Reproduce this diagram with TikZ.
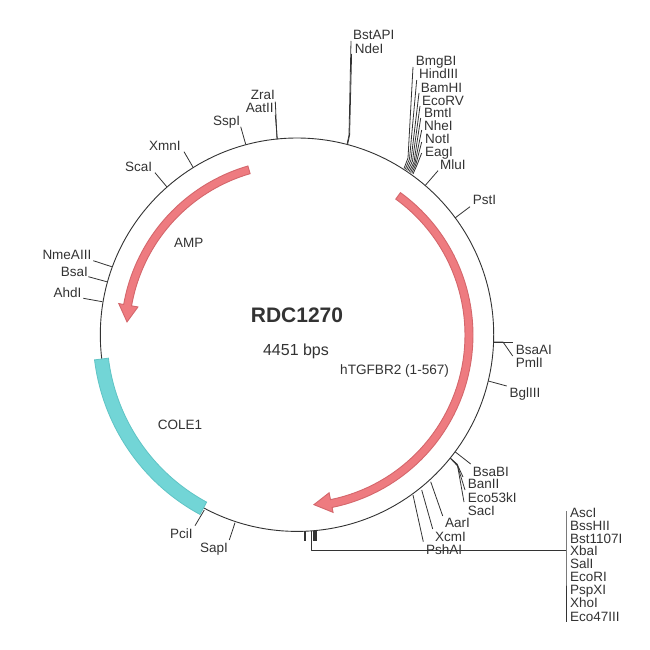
\documentclass[tikz,border=0pt]{standalone}
\usepackage{fontspec}
\setmainfont{Liberation Sans}
\usetikzlibrary{calc}
\definecolor{ink}{HTML}{333333}
\definecolor{redfill}{HTML}{EE7B80}
\definecolor{redline}{HTML}{D4666B}
\definecolor{tealfill}{HTML}{72D5D6}
\definecolor{tealline}{HTML}{5FC4C5}
\def\cx{297}
\def\cy{335}
\tikzset{
  site/.style={anchor=west,inner sep=0pt,text=ink,font=\fontsize{13.5}{14}\selectfont,text height=9.5pt,text depth=0pt},
  featurelabel/.style={site},
  conn/.style={draw=ink,line width=0.8pt,line join=round},
  plasmid/.style={draw=ink,line width=0.9pt},
  stub/.style={draw=ink,line width=1.1pt},
  redarrow/.style={fill=redfill,draw=redline,line width=0.9pt,line join=miter},
  tealband/.style={fill=tealfill,draw=tealline,line width=0.8pt}
}
\begin{document}
\begin{tikzpicture}[x=1pt,y=-1pt]
\useasboundingbox (0,0) rectangle (650,650);
\fill[white] (0,0) rectangle (650,650);

\coordinate (centre) at (297,334.7);
\draw[plasmid] (centre) circle (196.7pt);

% features
\draw[tealband] plot[domain=187:241.6,samples=40] ({\cx+190*cos(\x)},{\cy-190*sin(\x)})
  -- plot[domain=241.6:187,samples=40] ({\cx+204*cos(\x)},{\cy-204*sin(\x)}) -- cycle;
\draw[redarrow] plot[domain=106.2:170,samples=40] ({\cx+176*cos(\x)},{\cy-176*sin(\x)})
  -- ({\cx+181*cos(170)},{\cy-181*sin(170)})
  -- ({\cx+170.5*cos(175.6)},{\cy-170.5*sin(175.6)})
  -- ({\cx+161.5*cos(170)},{\cy-161.5*sin(170)})
  -- plot[domain=170:106.2,samples=40] ({\cx+168*cos(\x)},{\cy-168*sin(\x)}) -- cycle;
\draw[redarrow] plot[domain=54:-78.5,samples=60] ({\cx+176*cos(\x)},{\cy-176*sin(\x)})
  -- ({\cx+181*cos(-78.5)},{\cy-181*sin(-78.5)})
  -- ({\cx+170.5*cos(-84.3)},{\cy-170.5*sin(-84.3)})
  -- ({\cx+161*cos(-78.5)},{\cy-161*sin(-78.5)})
  -- plot[domain=-78.5:54,samples=60] ({\cx+168*cos(\x)},{\cy-168*sin(\x)}) -- cycle;

% centre and feature texts
\node[anchor=center,inner sep=0pt,text=ink,font=\bfseries\fontsize{21}{21}\selectfont] (title) at (297,315) {RDC1270};
\node[anchor=center,inner sep=0pt,text=ink,font=\fontsize{16}{16}\selectfont] (size) at (296,351) {4451 bps};
\node[featurelabel] (famp) at (174,243) {AMP};
\node[featurelabel] (fcol) at (157.7,425) {COLE1};
\node[featurelabel,font=\fontsize{13.6}{14}\selectfont] (ftgf) at (340,370) {hTGFBR2 (1-567)};

% single labels
\node[site] (BstAPI) at (353,35) {BstAPI};
\node[site] (NdeI) at (354.7,48.5) {NdeI};
\node[site] (BmgBI) at (415.7,61) {BmgBI};
\node[site] (HindIII) at (419,74) {HindIII};
\node[site] (BamHI) at (420.7,87.5) {BamHI};
\node[site] (EcoRV) at (422,100.5) {EcoRV};
\node[site] (BmtI) at (424,113) {BmtI};
\node[site] (NheI) at (424,126) {NheI};
\node[site] (NotI) at (425,139) {NotI};
\node[site] (EagI) at (425,152) {EagI};
\node[site] (MluI) at (440,165) {MluI};
\node[site] (PstI) at (472.7,200) {PstI};
\node[site] (BsaAI) at (515.7,349.3) {BsaAI};
\node[site] (PmlI) at (515.7,362.7) {PmlI};
\node[site] (BglIII) at (509.3,392.3) {BglIII};
\node[site] (BsaBI) at (472.7,471.7) {BsaBI};
\node[site] (BanII) at (467.7,484) {BanII};
\node[site] (Eco53kI) at (467.7,497.3) {Eco53kI};
\node[site] (SacI) at (467.7,510.7) {SacI};
\node[site] (AarI) at (445,523) {AarI};
\node[site] (XcmI) at (435,536.7) {XcmI};
\node[site] (PshAI) at (426,549.3) {PshAI};
\node[site] (SapI) at (200,547.3) {SapI};
\node[site] (PciI) at (170,533.3) {PciI};
\node[site] (AhdI) at (53.3,292.7) {AhdI};
\node[site] (BsaI) at (60.7,271.3) {BsaI};
\node[site] (NmeAIII) at (42.3,255) {NmeAIII};
\node[site] (ScaI) at (125,166.7) {ScaI};
\node[site] (XmnI) at (149,145.7) {XmnI};
\node[site] (SspI) at (213,120.7) {SspI};
\node[site] (AatII) at (245.7,108) {AatII};
\node[site] (ZraI) at (250.7,94.7) {ZraI};

% stacked list at lower right
\node[site] (AscI) at (570,512.3) {AscI};
\node[site] (BssHII) at (570,525.5) {BssHII};
\node[site] (Bst1107I) at (570,538.3) {Bst1107I};
\node[site] (XbaI) at (570,551) {XbaI};
\node[site] (SalI) at (570,564) {SalI};
\node[site] (EcoRI) at (570,577) {EcoRI};
\node[site] (PspXI) at (570,590) {PspXI};
\node[site] (XhoI) at (570,603) {XhoI};
\node[site] (Eco47III) at (570,616.7) {Eco47III};

% connectors: tick on the circle, then to the foot of the label
\draw[conn] (347,144.5) -- (349,135) -- ($(BstAPI.west)+(-2,6)$);
\draw[conn] (347.6,144.5) -- (349.6,135) -- ($(NdeI.west)+(-3.1,5.5)$);
\draw[conn] (404,168.5) -- (408,158) -- ($(BmgBI.west)+(-2.7,6)$);
\draw[conn] (405.3,169.2) -- (409.5,159) -- ($(HindIII.west)+(-2.3,6)$);
\draw[conn] (406.6,170) -- (411,160) -- ($(BamHI.west)+(-1.7,5.5)$);
\draw[conn] (407.9,170.8) -- (412.5,161) -- ($(EcoRV.west)+(-2,5.5)$);
\draw[conn] (409.2,171.6) -- (414,162) -- ($(BmtI.west)+(-3.3,5)$);
\draw[conn] (410.5,172.4) -- (415,163) -- ($(NheI.west)+(-2.3,4)$);
\draw[conn] (411.8,173.2) -- (416,164) -- ($(NotI.west)+(-3.3,3)$);
\draw[conn] (413,174) -- (417,165) -- ($(EagI.west)+(-3.3,1)$);
\draw[conn] (425,185.7) -- ($(MluI.west)+(-2,5.7)$);
\draw[conn] (455,218) -- ($(PstI.west)+(-2.7,6.7)$);
\draw[conn] (493.3,342) -- ($(BsaAI.west)+(-3,-7.3)$);
\draw[conn] (493.3,342) -- (503,342) -- ($(PmlI.west)+(-3,-6.7)$);
\draw[conn] (488.3,381) -- ($(BglIII.west)+(-2.6,-6.3)$);
\draw[conn] (455,451.7) -- ($(BsaBI.west)+(-2,-7.7)$);
\draw[conn] (450,458) -- (457,464) -- ($(BanII.west)+(-4.7,-7)$);
\draw[conn] (450.6,458.5) -- (457.3,465) -- ($(Eco53kI.west)+(-2.7,-7.3)$);
\draw[conn] (451.2,459) -- (457.6,466) -- ($(SacI.west)+(-3.7,-8.7)$);
\draw[conn] (430.7,481.7) -- ($(AarI.west)+(-2.3,-7)$);
\draw[conn] (421.7,490) -- ($(XcmI.west)+(-2.3,-7.7)$);
\draw[conn] (413,495) -- ($(PshAI.west)+(-2.7,-7.6)$);
\draw[conn] (235,522.7) -- ($(SapI.west)+(29.3,-7.3)$);
\draw[conn] (204.3,510) -- ($(PciI.west)+(25,-7.6)$);
\draw[conn] (102.3,301.7) -- ($(AhdI.west)+(30,5.6)$);
\draw[conn] (106.7,281.7) -- ($(BsaI.west)+(27.6,5.4)$);
\draw[conn] (111.7,266.7) -- ($(NmeAIII.west)+(51,5.7)$);
\draw[conn] (166.7,186.7) -- ($(ScaI.west)+(30,6)$);
\draw[conn] (193.3,167.7) -- ($(XmnI.west)+(35,6)$);
\draw[conn] (245.7,144.3) -- ($(SspI.west)+(27.7,6)$);
\draw[conn] (277.3,139.3) -- ($(AatII.west)+(29.6,7)$);
\draw[conn] (277,139.3) -- ($(ZraI.west)+(24.6,7)$);

% cluster at the bottom: stubs, trunk and the bar beside the list
\coordinate (hub) at (566,550.5);
\draw[stub] (304.4,531) -- (304.4,541);
\draw[stub] (305.4,531) -- (305.4,541);
\draw[stub] (313.5,531) -- (313.5,541);
\draw[stub] (315,531) -- (315,541);
\draw[stub] (316.5,531) -- (316.5,541);
\draw[conn] (311,531) -- (311,550.5) -- (hub);
\draw[conn] ($(AscI.west)+(-4,-1)$) -- (hub) -- ($(Eco47III.west)+(-4,5)$);
\end{tikzpicture}
\end{document}
